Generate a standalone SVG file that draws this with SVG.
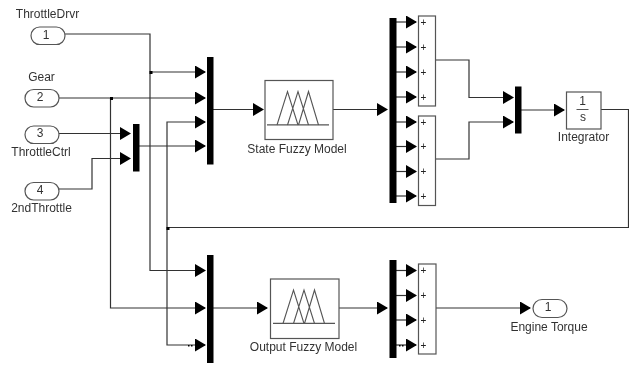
<svg xmlns="http://www.w3.org/2000/svg" width="629" height="365" viewBox="0 0 629 365">
<style>
text{font-family:"Liberation Sans",Arial,sans-serif;font-size:12px;fill:#333;text-anchor:middle}
.b{fill:#fff;stroke:#555;stroke-width:1.2}
.m{fill:#000}
.c{fill:none;stroke:#333;stroke-width:1.2}
.f{fill:none;stroke:#555;stroke-width:1.1}
.p{font-size:10px;fill:#222}
svg>g{filter:url(#s)}
</style>
<defs>
<filter id="s" x="-5%" y="-5%" width="110%" height="110%"><feGaussianBlur stdDeviation="0.3"/></filter>
<marker id="a" markerUnits="userSpaceOnUse" markerWidth="12" markerHeight="14" refX="10" refY="6.500" orient="auto"><path d="M0 0L11 6.500L0 13Z" fill="#000"/></marker>
<g id="fz"><path class="f" d="M277 125L287.500 91.500L298 125M287.500 125L298 91.500L308.500 125M298.500 125L308.500 91.500L318.500 125"/><path d="M267 124.800H329" fill="none" stroke="#555" stroke-width="1.200"/></g>
</defs>
<g id="connectors">
<path class="c" marker-end="url(#a)" d="M65 34H150V270.500H205"/>
<path class="c" marker-end="url(#a)" d="M150 72H205"/>
<path class="c" marker-end="url(#a)" d="M59 98H205"/>
<path class="c" marker-end="url(#a)" d="M110.500 98V308H205"/>
<path class="c" marker-end="url(#a)" d="M59 133.500H130"/>
<path class="c" marker-end="url(#a)" d="M59 189H92V158.500H130"/>
<path class="c" marker-end="url(#a)" d="M139 146H205"/>
<path class="c" marker-end="url(#a)" d="M601 109.500H628.500V227.500H167V122H205"/>
<path class="c" marker-end="url(#a)" d="M167 227.500V345H205"/>
<path class="c" marker-end="url(#a)" d="M213 109.500H263"/>
<path class="c" marker-end="url(#a)" d="M333 109.500H387"/>
<path class="c" marker-end="url(#a)" d="M396 22H416"/>
<path class="c" marker-end="url(#a)" d="M396 47H416"/>
<path class="c" marker-end="url(#a)" d="M396 72H416"/>
<path class="c" marker-end="url(#a)" d="M396 97H416"/>
<path class="c" marker-end="url(#a)" d="M396 122H416"/>
<path class="c" marker-end="url(#a)" d="M396 146.500H416"/>
<path class="c" marker-end="url(#a)" d="M396 171.500H416"/>
<path class="c" marker-end="url(#a)" d="M396 196H416"/>
<path class="c" marker-end="url(#a)" d="M435 60H469V97.500H513"/>
<path class="c" marker-end="url(#a)" d="M435 159H469V122H513"/>
<path class="c" marker-end="url(#a)" d="M521 110H564"/>
<path class="c" marker-end="url(#a)" d="M213 308H267"/>
<path class="c" marker-end="url(#a)" d="M339 308H387"/>
<path class="c" marker-end="url(#a)" d="M396 270.500H416"/>
<path class="c" marker-end="url(#a)" d="M396 295.500H416"/>
<path class="c" marker-end="url(#a)" d="M396 320H416"/>
<path class="c" marker-end="url(#a)" d="M396 345H416"/>
<path class="c" marker-end="url(#a)" d="M435 308H530"/>
<rect x="149.500" y="71" width="3" height="3" fill="#000"/>
<rect x="110" y="97" width="3" height="3" fill="#000"/>
<rect x="166.500" y="227" width="3" height="3" fill="#000"/>
<rect x="188" y="345" width="1.500" height="1.500" fill="#000"/>
<rect x="191" y="345" width="1.500" height="1.500" fill="#000"/>
<rect x="399" y="345" width="1.500" height="1.500" fill="#000"/>
<rect x="402" y="345" width="1.500" height="1.500" fill="#000"/>
</g>
<g id="in1"><rect class="b" x="31" y="27" width="34" height="17.500" rx="8.700"/><text x="46" y="38.500">1</text><text x="47.500" y="18">ThrottleDrvr</text></g>
<g id="in2"><rect class="b" x="25" y="89.500" width="34" height="17.500" rx="8.700"/><text x="40" y="100.500">2</text><text x="41.500" y="81">Gear</text></g>
<g id="in3"><rect class="b" x="25" y="126" width="34" height="17.500" rx="8.700"/><text x="40" y="137">3</text><text x="41" y="156">ThrottleCtrl</text></g>
<g id="in4"><rect class="b" x="25" y="182.500" width="34" height="17.500" rx="8.700"/><text x="40" y="193.500">4</text><text x="41.500" y="212">2ndThrottle</text></g>
<g id="mux1"><rect class="m" x="207" y="57" width="6.500" height="107.500"/></g>
<g id="mux2"><rect class="m" x="133" y="124" width="6.500" height="47.500"/></g>
<g id="mux3"><rect class="m" x="207" y="255" width="6.500" height="108"/></g>
<g id="stateFuzzy"><rect class="b" x="265" y="80.500" width="68" height="59"/><use href="#fz"/><text x="297" y="152.500">State Fuzzy Model</text></g>
<g id="outputFuzzy"><rect class="b" x="270.500" y="279" width="68.500" height="59.500"/><use href="#fz" x="6" y="198.500"/><text x="303.500" y="351">Output Fuzzy Model</text></g>
<g id="mux4"><rect class="m" x="389.500" y="18" width="7" height="185"/></g>
<g id="sum1"><rect class="b" x="418.500" y="16" width="17" height="90"/><text class="p" x="423.500" y="25.500">+</text><text class="p" x="423.500" y="51">+</text><text class="p" x="423.500" y="76">+</text><text class="p" x="423.500" y="101">+</text></g>
<g id="sum2"><rect class="b" x="418.500" y="116" width="17" height="89.500"/><text class="p" x="423.500" y="126">+</text><text class="p" x="423.500" y="150">+</text><text class="p" x="423.500" y="175">+</text><text class="p" x="423.500" y="200">+</text></g>
<g id="mux5"><rect class="m" x="515" y="86.500" width="6.500" height="47"/></g>
<g id="integrator"><rect class="b" x="566.500" y="92" width="34.500" height="37"/><text x="582.500" y="105">1</text><path d="M576.500 109.500H588.500" stroke="#555"/><text x="583" y="121">s</text><text x="583.500" y="141">Integrator</text></g>
<g id="mux6"><rect class="m" x="389.500" y="260" width="7" height="98"/></g>
<g id="sum3"><rect class="b" x="418.500" y="264" width="17.500" height="90"/><text class="p" x="423.500" y="274">+</text><text class="p" x="423.500" y="299">+</text><text class="p" x="423.500" y="324">+</text><text class="p" x="423.500" y="349">+</text></g>
<g id="out1"><rect class="b" x="533" y="299.500" width="34" height="18" rx="9"/><text x="548" y="311">1</text><text x="549" y="331">Engine Torque</text></g>
</svg>
